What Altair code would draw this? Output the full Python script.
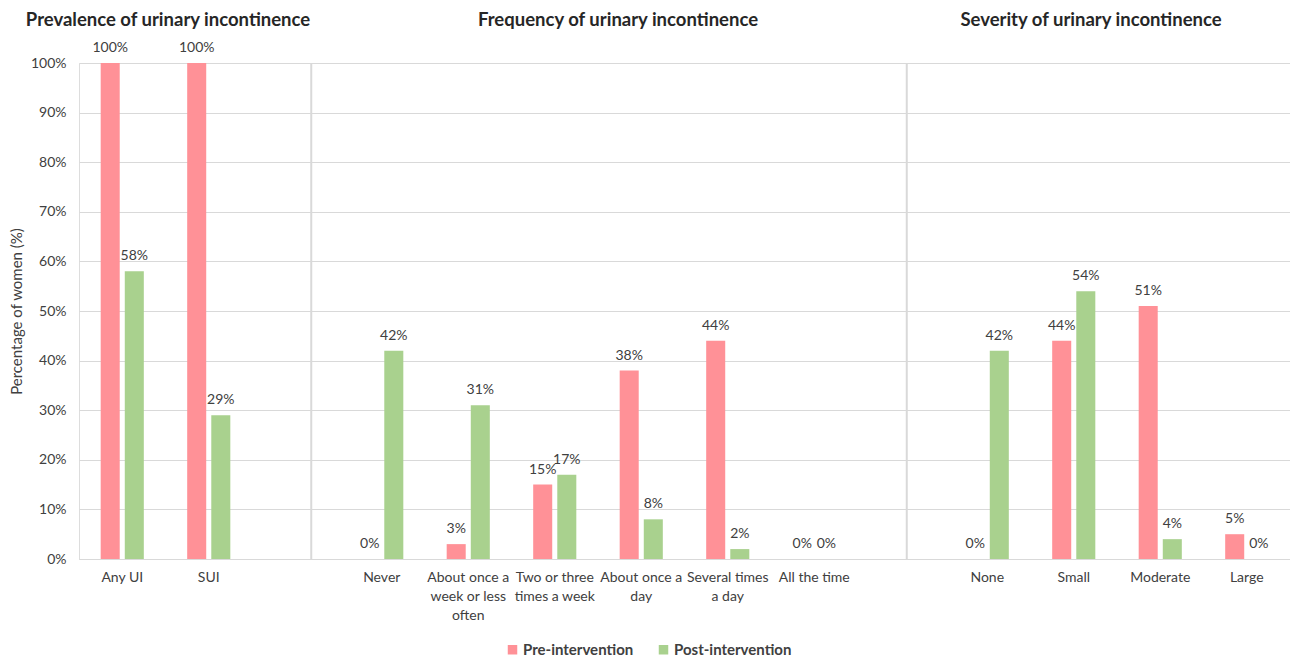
import altair as alt
import pandas as pd

categories = ["Any UI", "SUI", " ", "Never", "About once a week or less often",
              "Two or three times a week", "About once a day", "Several times a day",
              "All the time", "  ", "None", "Small", "Moderate", "Large"]
pre_values = [100, 100, None, 0, 3, 15, 38, 44, 0, None, 0, 44, 51, 5]
post_values = [58, 29, None, 42, 31, 17, 8, 2, 0, None, 42, 54, 4, 0]
series = ["Pre-intervention", "Post-intervention"]
colors = ["#FF9197", "#A9D18E"]
section_titles = ["Prevalence of urinary incontinence",
                  "Frequency of urinary incontinence",
                  "Severity of urinary incontinence"]
wrapped = {
    "About once a week or less often": ["About once a", "week or less", "often"],
    "Two or three times a week": ["Two or three", "times a week"],
    "About once a day": ["About once a", "day"],
    "Several times a day": ["Several times", "a day"],
}
y_ticks = list(range(0, 101, 10))

rows = []
for c, a, b in zip(categories, pre_values, post_values):
    if a is not None:
        rows.append({"cat": c, "series": series[0], "v": a})
    if b is not None:
        rows.append({"cat": c, "series": series[1], "v": b})
df = pd.DataFrame(rows)

parts = []
for k, lines in wrapped.items():
    arr = "[" + ",".join("'" + l + "'" for l in lines) + "]"
    parts.append(f"datum.value == '{k}' ? {arr}")
label_expr = " : ".join(parts) + " : datum.label"

FONT = "Lato"
TXT = "#404040"
GRID = "#D9D9D9"
W, H = 1211, 496

xscale = alt.Scale(domain=categories, paddingInner=0, paddingOuter=0)
xoff = alt.XOffset("series:N", sort=series,
                   scale=alt.Scale(domain=series, paddingInner=0.21, paddingOuter=0.9))

base = alt.Chart(df)

bars = base.mark_bar().encode(
    x=alt.X("cat:N", sort=categories, scale=xscale,
            axis=alt.Axis(title=None, labelAngle=0, labelExpr=label_expr,
                          labelFont=FONT, labelFontSize=14, labelColor=TXT,
                          labelPadding=11, labelLineHeight=19, ticks=False,
                          domainColor=GRID, labelBaseline="top", labelLimit=200)),
    xOffset=xoff,
    y=alt.Y("v:Q", scale=alt.Scale(domain=[0, 100], nice=False),
            axis=alt.Axis(values=y_ticks, labelExpr="datum.value + '%'",
                          title="Percentage of women (%)", titleFont=FONT,
                          titleFontSize=15, titleFontWeight="normal", titleColor=TXT,
                          titleX=-63, titleY=H / 2, titleAngle=-90,
                          titleAlign="center", titleBaseline="middle",
                          labelFont=FONT, labelFontSize=14, labelColor=TXT,
                          labelPadding=13, ticks=False, domain=False,
                          gridColor=GRID)),
    color=alt.Color("series:N", sort=series,
                    scale=alt.Scale(domain=series, range=colors),
                    legend=alt.Legend(title=None, orient="none", direction="horizontal",
                                      legendX=426, legendY=579, symbolType="square",
                                      symbolSize=90, symbolStrokeWidth=0,
                                      labelFont=FONT, labelFontSize=15,
                                      labelFontWeight="bold", labelColor=TXT,
                                      labelOffset=3, columnPadding=22)),
)

labels = base.transform_calculate(lab="datum.v + '%'").mark_text(
    font=FONT, fontSize=14, color=TXT, baseline="middle", dy=-15
).encode(
    x=alt.X("cat:N", sort=categories, scale=xscale),
    xOffset=xoff,
    y=alt.Y("v:Q"),
    text="lab:N",
)

div_df = pd.DataFrame({"cat": [" "]})
div_df2 = pd.DataFrame({"cat": ["  "]})
div1 = alt.Chart(div_df).mark_rule(color=GRID, strokeWidth=2, xOffset=16).encode(
    x=alt.X("cat:N", sort=categories, scale=xscale), y=alt.value(0), y2=alt.value(H))
div2 = alt.Chart(div_df2).mark_rule(color=GRID, strokeWidth=2, xOffset=6).encode(
    x=alt.X("cat:N", sort=categories, scale=xscale), y=alt.value(0), y2=alt.value(H))

title_x = [89, 539, 1012]
titles = []
for t, tx in zip(section_titles, title_x):
    titles.append(alt.Chart(pd.DataFrame({"t": [t]})).mark_text(
        font=FONT, fontSize=18.5, fontWeight="bold", color="#262626",
        align="center", baseline="middle").encode(
        x=alt.value(tx), y=alt.value(-43), text="t:N"))

chart = alt.layer(bars, labels, div1, div2, *titles).properties(
    width=W, height=H,
    autosize=alt.AutoSizeParams(type="none"),
    padding={"left": 79, "top": 63, "right": 0, "bottom": 102},
).configure_view(stroke=GRID, strokeWidth=1.5).configure(background="white")

chart.save("out.html", embed_options={"renderer": "svg", "actions": False})
